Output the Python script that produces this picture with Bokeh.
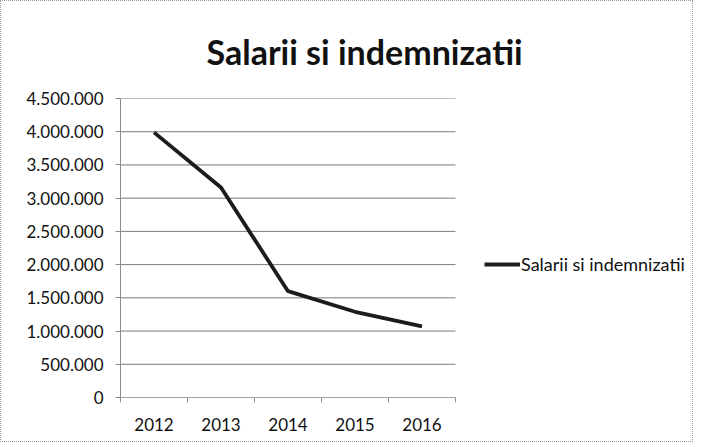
from bokeh.plotting import figure
from bokeh.models import FixedTicker, Legend, LegendItem, ColumnDataSource, Range1d
from bokeh.embed import file_html
from bokeh.resources import INLINE

years = ["2012", "2013", "2014", "2015", "2016"]
values = [3990000, 3160000, 1600000, 1290000, 1070000]
y_ticks = [0, 500000, 1000000, 1500000, 2000000, 2500000, 3000000, 3500000, 4000000, 4500000]
y_labels = ["0", "500.000", "1.000.000", "1.500.000", "2.000.000", "2.500.000",
            "3.000.000", "3.500.000", "4.000.000", "4.500.000"]
series_name = "Salarii si indemnizatii"
title_text = "Salarii si indemnizatii"

FONT = "Lato"
W, H = 693, 442
FL, FT, FB = 119, 97, 396      # frame edges in figure px
PLOT_W = 335                    # width of the visible plotting area
FR = W - 1                      # frame extends right so the legend is not clipped
n = len(years)
x_end = n * (FR - FL) / PLOT_W

xs = [i + 0.5 for i in range(n)]
src = ColumnDataSource(dict(x=xs, y=values))

p = figure(width=W, height=H, output_backend="svg", toolbar_location=None,
           x_range=Range1d(0, x_end), y_range=Range1d(0, 4500000),
           min_border_left=FL, min_border_right=W - FR,
           min_border_top=FT, min_border_bottom=H - FB)
p.styles = {"border": "1px dotted #9a9a9a"}
p.outline_line_color = None
p.background_fill_color = "white"
p.border_fill_color = "white"

p.title.text = title_text
p.title.text_font = FONT
p.title.text_font_style = "bold"
p.title.text_font_size = "34px"
p.title.text_color = "#111111"
p.title.align = "left"
p.title.offset = 86
p.title.standoff = 54

# gridlines limited to the plotting area
p.segment(x0=[0] * len(y_ticks), x1=[n] * len(y_ticks), y0=y_ticks, y1=y_ticks,
          line_color="#7a7a7a", line_width=1)
# category axis line
p.segment(x0=[0], x1=[n], y0=[0], y1=[0], line_color="#8c8c8c", line_width=1)

r = p.line("x", "y", source=src, line_color="#1c1c1c", line_width=3.8)

# y axis
p.yaxis.ticker = FixedTicker(ticks=y_ticks)
p.yaxis.major_label_overrides = {t: l for t, l in zip(y_ticks, y_labels)}
p.yaxis.major_label_text_font = FONT
p.yaxis.major_label_text_font_size = "17px"
p.yaxis.major_label_text_color = "#111111"
p.yaxis.major_label_standoff = 12
p.yaxis.axis_line_color = "#8c8c8c"
p.yaxis.major_tick_line_color = "#8c8c8c"
p.yaxis.major_tick_in = 0
p.yaxis.major_tick_out = 5
p.yaxis.minor_tick_line_color = None

# x axis: labels at centers, ticks at category boundaries
p.xaxis.ticker = FixedTicker(ticks=xs, minor_ticks=list(range(n + 1)))
p.xaxis.major_label_overrides = {x: y for x, y in zip(xs, years)}
p.xaxis.major_label_text_font = FONT
p.xaxis.major_label_text_font_size = "17px"
p.xaxis.major_label_text_color = "#111111"
p.xaxis.major_label_standoff = 14
p.xaxis.axis_line_color = None
p.xaxis.major_tick_line_color = None
p.xaxis.minor_tick_line_color = "#8c8c8c"
p.xaxis.minor_tick_in = 0
p.xaxis.minor_tick_out = 5

p.xgrid.grid_line_color = None
p.ygrid.grid_line_color = None

legend = Legend(items=[LegendItem(label=series_name, renderers=[r])],
                location=(364, 122), orientation="vertical")
legend.label_text_font = FONT
legend.label_text_font_size = "18px"
legend.label_text_color = "#111111"
legend.glyph_width = 36
legend.label_standoff = 1
legend.padding = 0
legend.margin = 0
legend.border_line_color = None
legend.background_fill_alpha = 0
p.add_layout(legend)

open("out.html", "w").write(file_html(p, INLINE))
